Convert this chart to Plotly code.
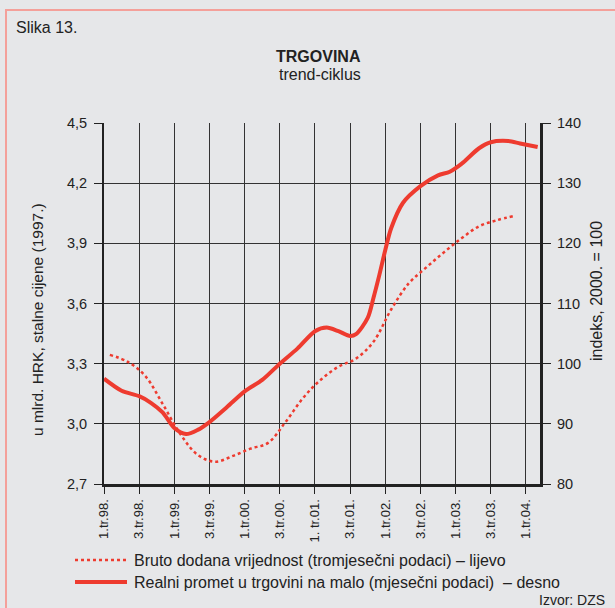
import plotly.graph_objects as go

# ---- data ----
tick_months = [0, 6, 12, 18, 24, 30, 36, 42, 48, 54, 60, 66, 72]
tick_labels = ["1.tr.98.", "3.tr.98.", "1.tr.99.", "3.tr.99.", "1.tr.00.", "3.tr.00.",
               "1. tr.01.", "3.tr.01.", "1.tr.02.", "3.tr.02.", "1.tr.03.", "3.tr.03.", "1.tr.04."]

# quarterly gross value added (left axis), months from Jan 1998 (quarter midpoints)
bdv_months = [1, 4, 7, 10, 13, 16, 19, 22, 25, 28, 31, 34, 37, 40, 43, 46, 49, 52, 55, 58, 61, 64, 67, 70]
bdv_values = [3.344, 3.31, 3.24, 3.10, 2.95, 2.845, 2.811, 2.84, 2.876, 2.905, 3.01, 3.13,
              3.22, 3.285, 3.325, 3.41, 3.57, 3.70, 3.78, 3.855, 3.925, 3.985, 4.015, 4.037]

# monthly real retail trade index (right axis)
rp_months = [0, 3, 6, 8, 10, 12, 14, 16, 18, 21, 24, 27, 30, 33, 36, 38, 40, 42, 43, 45,
             46, 47, 48, 49, 51, 54, 57, 59, 61, 64, 66, 69, 71, 74]
rp_values = [97.5, 95.5, 94.6, 93.5, 91.9, 89.3, 88.3, 89.0, 90.3, 92.8, 95.4, 97.3, 100.0,
             102.5, 105.4, 106.0, 105.4, 104.6, 104.9, 107.6, 111.0, 114.8, 118.9, 122.5,
             126.7, 129.5, 131.3, 131.9, 133.2, 135.8, 136.8, 137.0, 136.6, 136.0]

series_names = ["Bruto dodana vrijednost (tromjesečni podaci) – lijevo",
                "Realni promet u trgovini na malo (mjesečni podaci)  – desno"]

RED = "#ee3b2f"
BG = "#e6e7e9"
INK = "#222222"
FONT = "Liberation Sans, Arial, sans-serif"

fig = go.Figure()
fig.add_trace(go.Scatter(x=bdv_months, y=bdv_values, mode="lines", name=series_names[0],
                         line=dict(color=RED, width=2.5, dash="dot", shape="spline"),
                         yaxis="y", showlegend=False))
fig.add_trace(go.Scatter(x=rp_months, y=rp_values, mode="lines", name=series_names[1],
                         line=dict(color=RED, width=4, shape="spline", smoothing=0.8),
                         yaxis="y2", showlegend=False))

W, H = 615, 608
L, R, T, B = 104, 540, 123, 484
pw, ph = R - L, B - T


def px(x):
    return (x - L) / pw


def py(y):
    return (B - y) / ph


ann = [
    dict(text="Slika 13.", x=px(14), y=py(27), xanchor="left", yanchor="middle",
         font=dict(size=16)),
    dict(text="<b>TRGOVINA</b>", x=px(318), y=py(57), xanchor="center", yanchor="middle",
         font=dict(size=16)),
    dict(text="trend-ciklus", x=px(320), y=py(75), xanchor="center", yanchor="middle",
         font=dict(size=16)),
    dict(text="u mlrd. HRK, stalne cijene (1997.)", x=px(37), y=py(320), textangle=-90,
         xanchor="center", yanchor="middle", font=dict(size=15.5)),
    dict(text="indeks, 2000. = 100", x=px(596), y=py(291), textangle=-90,
         xanchor="center", yanchor="middle", font=dict(size=16)),
    dict(text="Izvor: DZS", x=px(607), y=py(600), xanchor="right", yanchor="middle",
         font=dict(size=14)),
    dict(text=series_names[0], x=px(132), y=py(560), xanchor="left", yanchor="middle",
         font=dict(size=16)),
    dict(text=series_names[1], x=px(132), y=py(582), xanchor="left", yanchor="middle",
         font=dict(size=16)),
]
for a in ann:
    a.update(xref="paper", yref="paper", showarrow=False)

shapes = [
    dict(type="rect", xref="paper", yref="paper", x0=px(6), x1=px(625), y0=py(625), y1=py(10),
         line=dict(color="#f4a09a", width=2), layer="below"),
    dict(type="line", xref="paper", yref="paper", x0=px(75), x1=px(127), y0=py(560), y1=py(560),
         line=dict(color=RED, width=2.5, dash="dot")),
    dict(type="line", xref="paper", yref="paper", x0=px(75), x1=px(127), y0=py(582), y1=py(582),
         line=dict(color=RED, width=4)),
]

fig.update_layout(
    width=W, height=H, autosize=False,
    margin=dict(l=L, r=W - R, t=T, b=H - B, pad=0),
    paper_bgcolor=BG, plot_bgcolor=BG,
    font=dict(family=FONT, color=INK, size=13),
    separators=",.",
    annotations=ann, shapes=shapes,
    showlegend=False,
    xaxis=dict(range=[0, 74.4], tickvals=tick_months, ticktext=tick_labels, tickangle=-90,
               ticks="outside", ticklen=7, tickcolor=INK, tickwidth=1,
               showgrid=True, gridcolor="#333333", gridwidth=1,
               showline=True, linecolor=INK, linewidth=3, zeroline=False,
               tickfont=dict(size=13)),
    yaxis=dict(range=[2.7, 4.5], dtick=0.3, tick0=2.7, tickformat=".1f",
               ticks="outside", ticklen=8, tickcolor=INK, tickwidth=1,
               showgrid=True, gridcolor="#333333", gridwidth=1,
               showline=True, linecolor=INK, linewidth=2, zeroline=False,
               tickfont=dict(size=14.5), ticklabelstandoff=4),
    yaxis2=dict(range=[80, 140], dtick=10, tick0=80, overlaying="y", side="right",
                ticks="outside", ticklen=8, tickcolor=INK, tickwidth=1,
                showgrid=False, showline=True, linecolor=INK, linewidth=3, zeroline=False,
                tickfont=dict(size=14.5), ticklabelstandoff=3),
)

fig.write_html("out.html", config={"displayModeBar": False},
               post_script="document.body.style.margin='0';document.body.style.overflow='hidden';"
                           "document.documentElement.style.overflow='hidden';")
